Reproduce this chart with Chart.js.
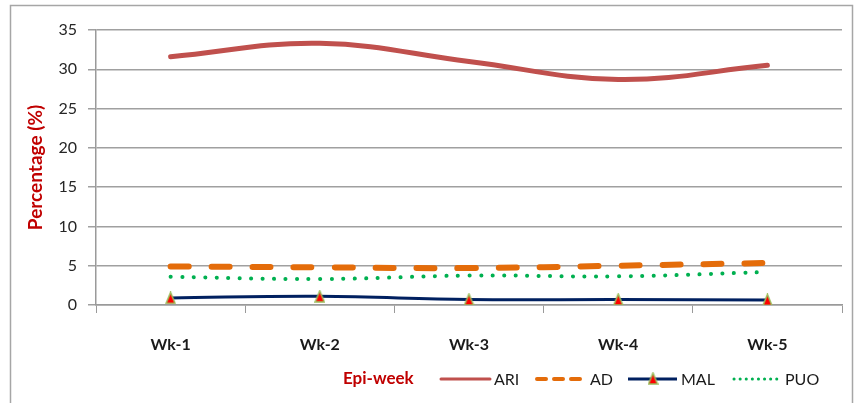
<!DOCTYPE html>
<html>
<head>
<meta charset="utf-8">
<script src="https://cdn.jsdelivr.net/npm/chart.js@4/dist/chart.umd.min.js"></script>
<style>
  html, body { margin: 0; padding: 0; background: #fff; }
  #wrap { width: 858px; height: 403px; position: relative; }
</style>
</head>
<body>
<div id="wrap"><canvas id="chart" width="858" height="403"></canvas></div>
<script>
const weeks = ["Wk-1", "Wk-2", "Wk-3", "Wk-4", "Wk-5"];
const ariValues = [31.6, 33.3, 31.0, 28.7, 30.5];
const adValues = [4.9, 4.8, 4.7, 5.0, 5.35];
const malValues = [0.9, 1.1, 0.7, 0.7, 0.65];
const puoValues = [3.6, 3.3, 3.75, 3.65, 4.2];
const yTicks = [0, 5, 10, 15, 20, 25, 30, 35];
const xTitle = "Epi-week";
const yTitle = "Percentage (%)";

const FONT = "Lato, 'Open Sans', sans-serif";
const RED = "#c00000";

// red triangle with a greenish rim, like the MAL markers
function makeTriangle(w, h) {
  const c = document.createElement("canvas");
  c.width = w;
  c.height = h;
  const g = c.getContext("2d");
  g.beginPath();
  g.moveTo(w / 2, 1);
  g.lineTo(w - 1, h - 1);
  g.lineTo(1, h - 1);
  g.closePath();
  g.fillStyle = "#ff0000";
  g.fill();
  g.strokeStyle = "#9bbb59";
  g.lineWidth = 1.5;
  g.stroke();
  return c;
}
const triangle = makeTriangle(11, 13);

const datasets = [
  {
    label: "ARI",
    data: ariValues,
    borderColor: "#c0504d",
    borderWidth: 5,
    borderCapStyle: "round",
    tension: 0.4,
    pointRadius: 0,
    fill: false,
  },
  {
    label: "AD",
    data: adValues,
    borderColor: "#e46c0a",
    borderWidth: 6,
    borderDash: [18, 23],
    borderCapStyle: "round",
    tension: 0.4,
    pointRadius: 0,
    fill: false,
  },
  {
    label: "MAL",
    data: malValues,
    borderColor: "#002060",
    borderWidth: 3,
    tension: 0.4,
    pointStyle: triangle,
    pointRadius: 6,
    fill: false,
  },
  {
    label: "PUO",
    data: puoValues,
    borderColor: "#00b050",
    borderWidth: 4,
    borderDash: [0.1, 11.4],
    borderCapStyle: "round",
    tension: 0.4,
    pointRadius: 0,
    fill: false,
  },
];

// outer frame plus the legend row with the x title in it
const frameAndLegend = {
  id: "frameAndLegend",
  beforeDraw(chart) {
    const ctx = chart.ctx;
    ctx.save();
    ctx.strokeStyle = "#a6a6a6";
    ctx.lineWidth = 1.5;
    ctx.beginPath();
    ctx.moveTo(10.5, 410);
    ctx.lineTo(10.5, 5.5);
    ctx.lineTo(852.5, 5.5);
    ctx.lineTo(852.5, 410);
    ctx.stroke();
    ctx.restore();
  },
  afterDraw(chart) {
    const ctx = chart.ctx;
    const y = 379;
    ctx.save();
    ctx.textBaseline = "middle";
    ctx.textAlign = "left";
    ctx.font = "bold 17px " + FONT;
    ctx.fillStyle = RED;
    ctx.fillText(xTitle, 343, y);

    const items = [
      { ds: 0, x0: 441 },
      { ds: 1, x0: 537 },
      { ds: 2, x0: 628 },
      { ds: 3, x0: 732 },
    ];
    ctx.font = "16px " + FONT;
    items.forEach((it) => {
      const d = datasets[it.ds];
      ctx.save();
      ctx.strokeStyle = d.borderColor;
      ctx.lineWidth = d.label === "AD" ? 4 : 3;
      ctx.lineCap = d.borderCapStyle || "butt";
      if (d.label === "AD") ctx.setLineDash([9, 8]);
      if (d.label === "PUO") ctx.setLineDash([0.1, 6]);
      ctx.beginPath();
      ctx.moveTo(it.x0 + (d.label === "PUO" ? 2 : 0), y);
      ctx.lineTo(it.x0 + 49, y);
      ctx.stroke();
      ctx.restore();
      if (d.label === "MAL") {
        ctx.drawImage(triangle, it.x0 + 25 - 5.5, y - 7);
      }
      ctx.fillStyle = "#1a1a1a";
      ctx.fillText(d.label, it.x0 + 53, y + 1);
    });
    ctx.restore();
  },
};

new Chart(document.getElementById("chart"), {
  type: "line",
  data: { labels: weeks, datasets },
  options: {
    responsive: false,
    animation: false,
    devicePixelRatio: 1,
    layout: { padding: { left: 0, right: 16, top: 30, bottom: 0 } },
    plugins: {
      legend: { display: false },
      tooltip: { enabled: false },
    },
    scales: {
      x: {
        offset: true,
        grid: {
          offset: true,
          drawOnChartArea: false,
          drawTicks: true,
          tickLength: 8,
          color: "#9a9a9a",
        },
        border: { color: "#9a9a9a", width: 1.5 },
        ticks: {
          padding: 22,
          color: "#1a1a1a",
          font: { family: FONT, size: 16, weight: "bold" },
        },
        afterFit(scale) {
          scale.height = 98;
        },
      },
      y: {
        min: 0,
        max: 35,
        afterBuildTicks(scale) {
          scale.ticks = yTicks.map((v) => ({ value: v }));
        },
        grid: {
          color: "#a0a0a0",
          lineWidth: 1.5,
          drawTicks: true,
          tickLength: 8,
        },
        border: { color: "#9a9a9a", width: 1.5 },
        ticks: {
          padding: 11,
          color: "#262626",
          font: { family: FONT, size: 16 },
        },
        title: {
          display: true,
          text: yTitle,
          color: RED,
          font: { family: FONT, size: 19, weight: "bold" },
          padding: { top: 24, bottom: 0 },
        },
        afterFit(scale) {
          scale.width = 96;
        },
      },
    },
  },
  plugins: [frameAndLegend],
});
</script>
</body>
</html>
